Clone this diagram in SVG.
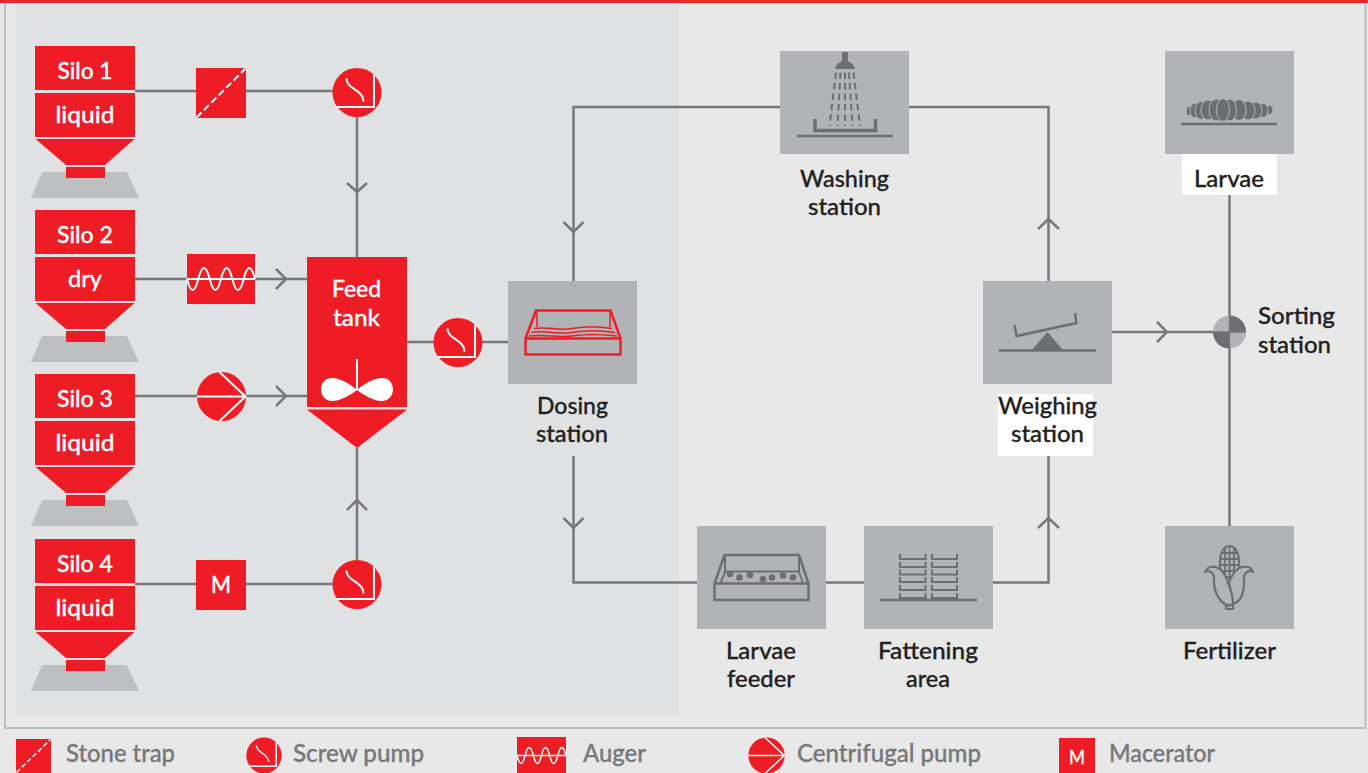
<svg xmlns="http://www.w3.org/2000/svg" width="1368" height="773" viewBox="0 0 1368 773">
<style>
.lbl{font-family:"Lato","Liberation Sans",sans-serif;font-size:23px;fill:#231f20;text-anchor:middle;font-weight:500;stroke:#231f20;stroke-width:.3}
.wt{font-family:"Lato","Liberation Sans",sans-serif;font-size:23px;fill:#fff;text-anchor:middle;font-weight:500;stroke:#fff;stroke-width:.3}
.leg{font-family:"Lato","Liberation Sans",sans-serif;font-size:24px;fill:#77787b;font-weight:500;stroke:#77787b;stroke-width:.3}
.conn{fill:none;stroke:#77787b;stroke-width:2.5}
.chev{fill:none;stroke:#77787b;stroke-width:2.5}
.box{fill:#b2b3b7}
.red{fill:#ee1c25}
.wl{fill:none;stroke:#fff;stroke-width:2}
.ic{fill:none;stroke:#6d6e71;stroke-width:2.5}
.icf{fill:#6d6e71}
</style>
<defs>
<g id="silo">
<rect class="red" x="35" y="46" width="100" height="44"/>
<rect class="red" x="35" y="93" width="100" height="44"/>
<polygon points="42,172 127,172 139,198 31,198" fill="#bebfc1"/>
<polygon class="red" points="35.500,139 134.500,139 105,165 66,165"/>
<rect class="red" x="66" y="167" width="39" height="11"/>
</g>
<g id="screw">
<circle class="red" cx="0" cy="0" r="24.500"/>
<path class="wl" d="M17 -17.500V14.500H-20"/>
<path class="wl" d="M-10.500 -14C-10.500 -3 6.500 -3 6.500 9"/>
</g>
<g id="cent">
<circle class="red" cx="0" cy="0" r="24.500"/>
<path class="wl" d="M-24.500 0H24M-2 -24.500L24 0L-2 24.500"/>
</g>
<g id="augwave">
<path class="wl" d="M0 0H68M0 0C3.700 14.700 7.600 14.700 11.300 0S18.900 -14.700 22.700 0S30.300 14.700 34 0S41.600 -14.700 45.300 0S53 14.700 56.700 0S64.300 -14.700 68 0"/>
</g>
</defs>
<rect width="1368" height="773" fill="#e8e8e8"/>
<rect width="1368" height="3" fill="#e6282e"/>
<path d="M5 3V728H1365.500V3" fill="none" stroke="#bcbdbd" stroke-width="2"/>
<rect x="16" y="3" width="663" height="711" fill="#e0e1e3"/>

<g id="connectors">
<path class="conn" d="M135 91H333M357 117V257"/>
<path class="conn" d="M135 279H307"/>
<path class="conn" d="M135 396H307"/>
<path class="conn" d="M135 584H333M357 560V448"/>
<path class="conn" d="M407 342H508"/>
<path class="conn" d="M573.500 281V107H1048.500V281"/>
<path class="conn" d="M573.500 456V582.500H697M826 582.500H864M993 582.500H1048.500V456"/>
<path class="conn" d="M1112 332H1213"/>
<path class="conn" d="M1229.500 195V526"/>
<path class="chev" d="M347 183L357 192L367 183"/>
<path class="chev" d="M347 510L357 500L367 510"/>
<path class="chev" d="M276 269L286 279L276 289"/>
<path class="chev" d="M276 386L286 396L276 406"/>
<path class="chev" d="M563.500 222L573.500 232L583.500 222"/>
<path class="chev" d="M563.500 518L573.500 528L583.500 518"/>
<path class="chev" d="M1038 229L1048.500 219L1059 229"/>
<path class="chev" d="M1038 528L1048.500 518L1059 528"/>
<path class="chev" d="M1157 322L1167 332L1157 342"/>
</g>

<g id="silo1"><use href="#silo"/><text class="wt" x="85" y="79" textLength="55" lengthAdjust="spacingAndGlyphs">Silo 1</text><text class="wt" x="85" y="123" textLength="59" lengthAdjust="spacingAndGlyphs">liquid</text></g>
<g id="silo2"><use href="#silo" y="164"/><text class="wt" x="85" y="243" textLength="56" lengthAdjust="spacingAndGlyphs">Silo 2</text><text class="wt" x="85" y="287" textLength="34" lengthAdjust="spacingAndGlyphs">dry</text></g>
<g id="silo3"><use href="#silo" y="328"/><text class="wt" x="85" y="407" textLength="56" lengthAdjust="spacingAndGlyphs">Silo 3</text><text class="wt" x="85" y="451" textLength="59" lengthAdjust="spacingAndGlyphs">liquid</text></g>
<g id="silo4"><use href="#silo" y="493"/><text class="wt" x="85" y="572" textLength="56" lengthAdjust="spacingAndGlyphs">Silo 4</text><text class="wt" x="85" y="616" textLength="59" lengthAdjust="spacingAndGlyphs">liquid</text></g>

<g id="stone-trap"><rect class="red" x="196" y="68" width="50" height="50"/><path d="M196.500 117.500L245.500 68.500" fill="none" stroke="#fff" stroke-width="2" stroke-dasharray="7 3.500"/></g>
<g id="auger"><rect class="red" x="187" y="254" width="68" height="50"/><use href="#augwave" x="187" y="279"/></g>
<g id="centrifugal"><use href="#cent" x="221.500" y="396.500"/></g>
<g id="macerator"><rect class="red" x="196" y="560" width="50" height="50"/><text class="wt" x="221" y="593" textLength="20" lengthAdjust="spacingAndGlyphs">M</text></g>
<g id="pump1"><use href="#screw" x="357" y="92.500"/></g>
<g id="pump2"><use href="#screw" x="357" y="584.500"/></g>
<g id="pump3"><use href="#screw" x="458" y="342.500"/></g>

<g id="feed-tank">
<rect class="red" x="307" y="257" width="100" height="150"/>
<polygon class="red" points="307,409.500 407,409.500 357,448"/>
<text class="wt" x="356.500" y="297" textLength="49" lengthAdjust="spacingAndGlyphs">Feed</text>
<text class="wt" x="356.500" y="326" textLength="47" lengthAdjust="spacingAndGlyphs">tank</text>
<path d="M357 359V390" stroke="#fff" stroke-width="2" fill="none"/>
<path d="M357 390C349 383 340 378 332 378C324 378 321 384 321 389.500C321 395 325 401 332 401C340 401 349 396 357 390C365 396 374 401 382 401C389 401 393 395 393 389.500C393 384 390 378 382 378C374 378 365 383 357 390Z" fill="#fff"/>
</g>

<g id="dosing-station">
<rect class="box" x="508" y="281" width="129" height="103"/>
<g fill="none" stroke="#ee1c25" stroke-width="2.500" stroke-linejoin="round">
<path d="M525.500 338.500V354.500H620.500V338.500H525.500L536 310.500H610.500L620.500 338.500"/>
<path d="M537 310.500V327M610 310.500V327" stroke-width="1.500"/>
<path d="M534 328.500C548 326 556 331 572 328.500S596 326 612 328.500" stroke-width="1.500"/>
<path d="M531 332.500C548 330 556 335 572 332.500S596 330 615 332.500" stroke-width="1.500"/>
<path d="M529 336C548 334 556 338 572 336S596 334 617 336" stroke-width="1.500"/>
</g>
<text class="lbl" x="572.500" y="414" textLength="71" lengthAdjust="spacingAndGlyphs">Dosing</text>
<text class="lbl" x="572" y="442" textLength="72" lengthAdjust="spacingAndGlyphs">station</text>
</g>

<g id="washing-station">
<rect class="box" x="780" y="51" width="129" height="103"/>
<rect class="icf" x="842" y="52" width="6" height="10"/>
<path class="icf" d="M835 69C836 64 840 61 845 61S854 64 855 69Z"/>
<g fill="none" stroke="#6d6e71" stroke-width="2" stroke-dasharray="6.500 4">
<path d="M836 72.500L829.500 126"/><path d="M840.500 72.500L837.500 126"/><path d="M845 72.500V126"/><path d="M849 72.500L852.500 126"/><path d="M853.500 72.500L860 126"/>
</g>
<path d="M815 119V130.500H875.500V119" fill="none" stroke="#6d6e71" stroke-width="3.500"/>
<path d="M797 136H893" fill="none" stroke="#6d6e71" stroke-width="2.500"/>
<text class="lbl" x="844.500" y="187" textLength="89" lengthAdjust="spacingAndGlyphs">Washing</text>
<text class="lbl" x="844.500" y="215" textLength="73" lengthAdjust="spacingAndGlyphs">station</text>
</g>

<g id="weighing-station">
<rect class="box" x="983" y="281" width="129" height="103"/>
<path class="ic" d="M999 350.500H1096"/>
<polygon class="icf" points="1032,350 1047.500,332 1063,350"/>
<path class="ic" d="M1014.500 325L1016.500 336L1076.500 323L1075 313"/>
<rect x="998" y="394" width="95" height="62" fill="#fff"/>
<text class="lbl" x="1047.500" y="414" textLength="99" lengthAdjust="spacingAndGlyphs">Weighing</text>
<text class="lbl" x="1047.500" y="442" textLength="73" lengthAdjust="spacingAndGlyphs">station</text>
</g>

<g id="larvae">
<rect class="box" x="1165" y="51" width="129" height="103"/>
<g class="icf" stroke="#b2b3b7" stroke-width="1">
<ellipse cx="1269" cy="110" rx="4" ry="4.500"/>
<ellipse cx="1189" cy="111" rx="3" ry="4.500"/>
<ellipse cx="1263" cy="110.500" rx="5" ry="7"/>
<ellipse cx="1195" cy="110.500" rx="5" ry="7.500"/>
<ellipse cx="1256" cy="110.500" rx="6" ry="8.500"/>
<ellipse cx="1201" cy="110.500" rx="6" ry="9"/>
<ellipse cx="1248" cy="110.500" rx="7" ry="9.500"/>
<ellipse cx="1208" cy="110" rx="7" ry="10"/>
<ellipse cx="1239" cy="110" rx="7" ry="10.500"/>
<ellipse cx="1216" cy="110" rx="7" ry="11"/>
<ellipse cx="1230" cy="110" rx="6.500" ry="11"/>
<ellipse cx="1223" cy="110" rx="6.500" ry="11.500"/>
</g>
<path class="ic" d="M1181 124H1277"/>
<rect x="1182" y="154" width="95" height="41" fill="#fff"/>
<text class="lbl" x="1229" y="187" textLength="70" lengthAdjust="spacingAndGlyphs">Larvae</text>
</g>

<g id="sorting-station">
<circle cx="1229.500" cy="332" r="16.500" fill="#b2b3b7"/>
<path class="icf" d="M1229.500 332V315.500A16.500 16.500 0 0 1 1246 332ZM1229.500 332V348.500A16.500 16.500 0 0 1 1213 332Z"/>
<path d="M1213 332H1246M1229.500 315.500V348.500" stroke="#77787b" stroke-width="1.500" fill="none"/>
<text class="lbl" x="1296.500" y="324" textLength="77" lengthAdjust="spacingAndGlyphs">Sorting</text>
<text class="lbl" x="1294.500" y="353" textLength="73" lengthAdjust="spacingAndGlyphs">station</text>
</g>

<g id="larvae-feeder">
<rect class="box" x="697" y="526" width="129" height="103"/>
<g class="ic" stroke-linejoin="round">
<path d="M714.500 583.500V600H808.500V583.500H714.500L724.500 555H799L808.500 583.500"/>
<path d="M725 555V572M799 555V572M725 571.500H799M725 572L720.500 583M799 572L803 583" stroke-width="2"/>
</g>
<g class="icf"><circle cx="730" cy="574" r="3.300"/><circle cx="739.500" cy="577.500" r="3.300"/><circle cx="750" cy="575" r="3.300"/><circle cx="763" cy="579" r="3.300"/><circle cx="772" cy="577.500" r="3.300"/><circle cx="783" cy="575.500" r="3.300"/><circle cx="793" cy="577.500" r="3.300"/></g>
<text class="lbl" x="761" y="659" textLength="70" lengthAdjust="spacingAndGlyphs">Larvae</text>
<text class="lbl" x="761" y="687" textLength="68" lengthAdjust="spacingAndGlyphs">feeder</text>
</g>

<g id="fattening-area">
<rect class="box" x="864" y="526" width="129" height="103"/>
<path class="ic" d="M880 600H977"/>
<path class="ic" d="M900 554V559H925.500V554M932 554V559H957V554M900 562V567H925.500V562M932 562V567H957V562M900 569.500V574.500H925.500V569.500M932 569.500V574.500H957V569.500M900 577V582H925.500V577M932 577V582H957V577M900 585V590H925.500V585M932 585V590H957V585M900 593V598H925.500V593M932 593V598H957V593" style="stroke-width:2"/>
<text class="lbl" x="928" y="659" textLength="100" lengthAdjust="spacingAndGlyphs">Fattening</text>
<text class="lbl" x="928" y="687" textLength="44" lengthAdjust="spacingAndGlyphs">area</text>
</g>

<g id="fertilizer">
<rect class="box" x="1165" y="526" width="129" height="103"/>
<g fill="none" stroke="#6d6e71" stroke-width="2.200" stroke-linejoin="round">
<path d="M1220.500 572C1218.500 556 1222 546 1229.500 546S1240.500 556 1238.500 572"/>
<path d="M1225 548V582M1229.500 546V585M1234 548V582M1221 553H1238M1220 559H1239M1220 565H1239M1221 571H1238M1223 577H1236" stroke-width="1.800"/>
<path d="M1253 572C1251 567 1247 566 1243 567C1238 567 1233 573 1229 582L1233 604C1240 602 1245 594 1244 576C1246 571 1250 570 1253 572Z" fill="#b2b3b7"/>
<path d="M1205 572C1207 567 1212 566 1216 567C1222 569 1226 576 1228 583C1231 590 1233 597 1233 604L1228 606C1220 602 1213 594 1214 576C1212 571 1208 570 1205 572Z" fill="#b2b3b7"/>
<rect x="1226" y="605" width="7" height="4"/>
</g>
<text class="lbl" x="1229.500" y="659" textLength="93" lengthAdjust="spacingAndGlyphs">Fertilizer</text>
</g>

<g id="legend">
<rect class="red" x="16" y="739" width="35" height="34"/>
<path d="M16.500 772.500L50.500 739.500" fill="none" stroke="#fff" stroke-width="1.500" stroke-dasharray="5 2.500"/>
<text class="leg" x="66" y="762" textLength="109" lengthAdjust="spacingAndGlyphs">Stone trap</text>
<use href="#screw" transform="translate(264 755.500) scale(0.72 0.735)"/>
<text class="leg" x="293" y="762" textLength="131" lengthAdjust="spacingAndGlyphs">Screw pump</text>
<rect class="red" x="517" y="737" width="49" height="36"/>
<g transform="translate(517 755.500) scale(0.72)"><use href="#augwave"/></g>
<text class="leg" x="583" y="762" textLength="63" lengthAdjust="spacingAndGlyphs">Auger</text>
<use href="#cent" transform="translate(766.500 755.500) scale(0.74 0.735)"/>
<text class="leg" x="797" y="762" textLength="184" lengthAdjust="spacingAndGlyphs">Centrifugal pump</text>
<rect class="red" x="1059" y="738" width="36" height="35"/>
<text class="wt" x="1077" y="764" textLength="16" lengthAdjust="spacingAndGlyphs" style="font-size:20px">M</text>
<text class="leg" x="1109" y="762" textLength="106" lengthAdjust="spacingAndGlyphs">Macerator</text>
</g>
</svg>
